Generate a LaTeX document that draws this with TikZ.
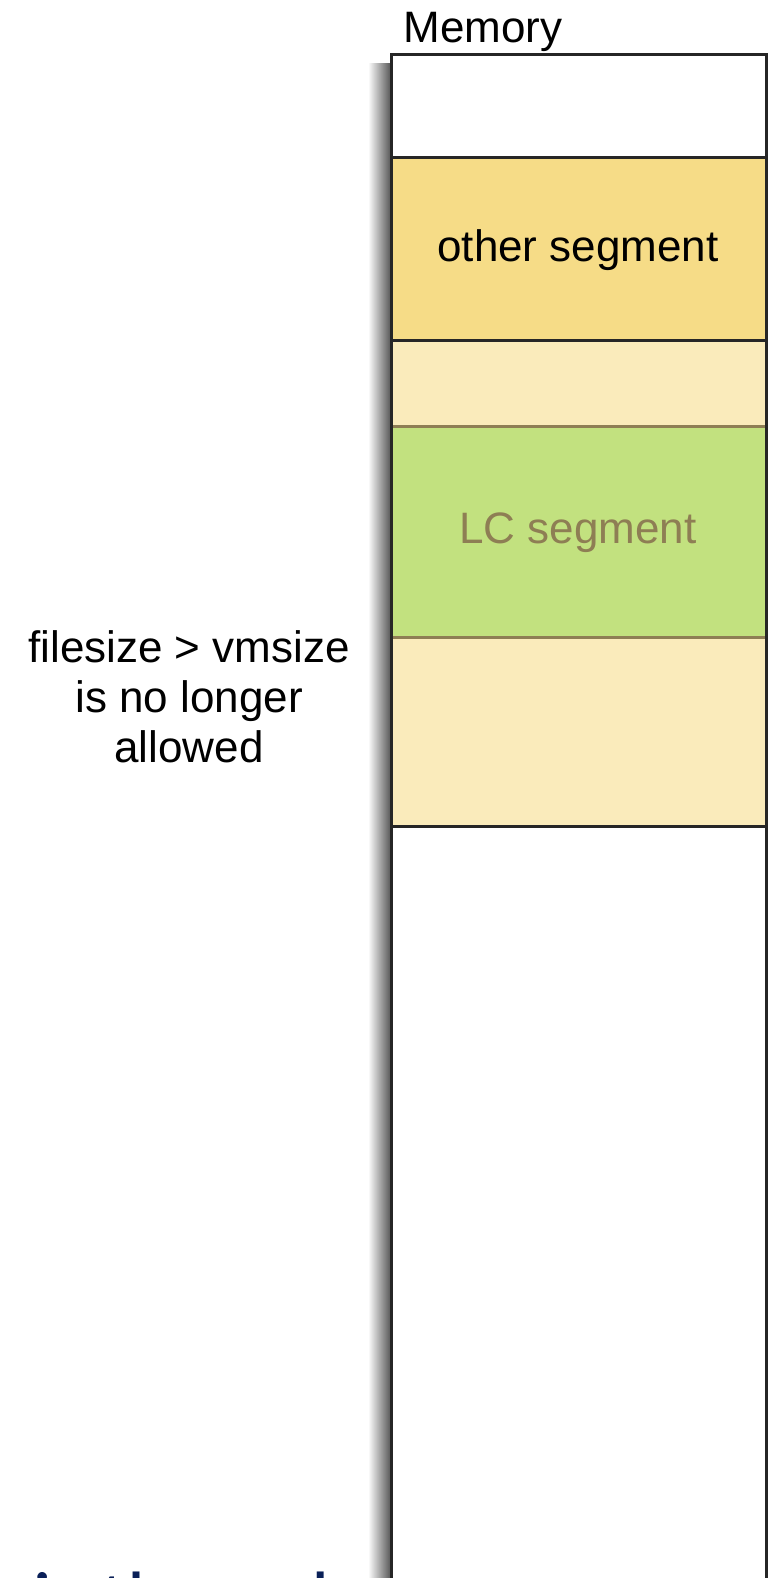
\documentclass[tikz,border=0pt]{standalone}
\usepackage{fontspec}
\setmainfont{Liberation Sans}
\newfontfamily\slidefont{Carlito}
\definecolor{segyellow}{RGB}{246,220,135}
\definecolor{padyellow}{RGB}{250,235,187}
\definecolor{lcgreen}{RGB}{194,225,127}
\definecolor{lcbrown}{RGB}{142,126,84}
\definecolor{navy}{RGB}{10,32,88}
\begin{document}
\begin{tikzpicture}[x=1pt,y=-1pt,
  seg/.style={rectangle, inner sep=0pt, minimum width=374pt, draw=none},
  lbl/.style={font=\fontsize{44}{50}\selectfont, inner sep=0pt},
  blackline/.style={line width=3pt, black!85},
  brownline/.style={line width=3pt, lcbrown}]
\useasboundingbox (0,0) rectangle (769,1578);
\clip (0,0) rectangle (769,1578);
\fill[white] (0,0) rectangle (769,1578);
% partially visible slide text at the bottom
\node[anchor=base west, inner sep=0pt, text=navy, font=\slidefont\fontsize{80}{96}\selectfont] (slidetext) at (33,1627) {is the only};
% shadow
\shade[left color=white, right color=black!70] (368,64) rectangle (392,1600);
% segments
\node[seg, fill=white, minimum height=103pt] (topfree) at (579,106.5) {};
\node[seg, fill=segyellow, minimum height=183pt] (other) at (579,249.5) {};
\node[seg, fill=padyellow, minimum height=86pt] (padA) at (579,384) {};
\node[seg, fill=lcgreen, minimum height=211pt] (lc) at (579,532.5) {};
\node[seg, fill=padyellow, minimum height=189pt] (padB) at (579,732.5) {};
\node[seg, fill=white, minimum height=773pt] (botfree) at (579,1213.5) {};
% separators
\draw[blackline] (other.north west) -- (other.north east);
\draw[blackline] (padA.north west) -- (padA.north east);
\draw[brownline] (lc.north west) -- (lc.north east);
\draw[brownline] (padB.north west) -- (padB.north east);
\draw[blackline] (botfree.north west) -- (botfree.north east);
% outline
\draw[blackline] (botfree.south west) -- (topfree.north west) -- (topfree.north east) -- (botfree.south east);
% labels
\node[lbl, anchor=base] (memlabel) at (483,43) {Memory};
\node[lbl] (otherlabel) at (578,250) {other segment};
\node[lbl, text=lcbrown] (lclabel) at (578,533) {LC segment};
\node[lbl, align=center, anchor=north] (note) at (189,630) {filesize > vmsize\\is no longer\\allowed};
\end{tikzpicture}
\end{document}
